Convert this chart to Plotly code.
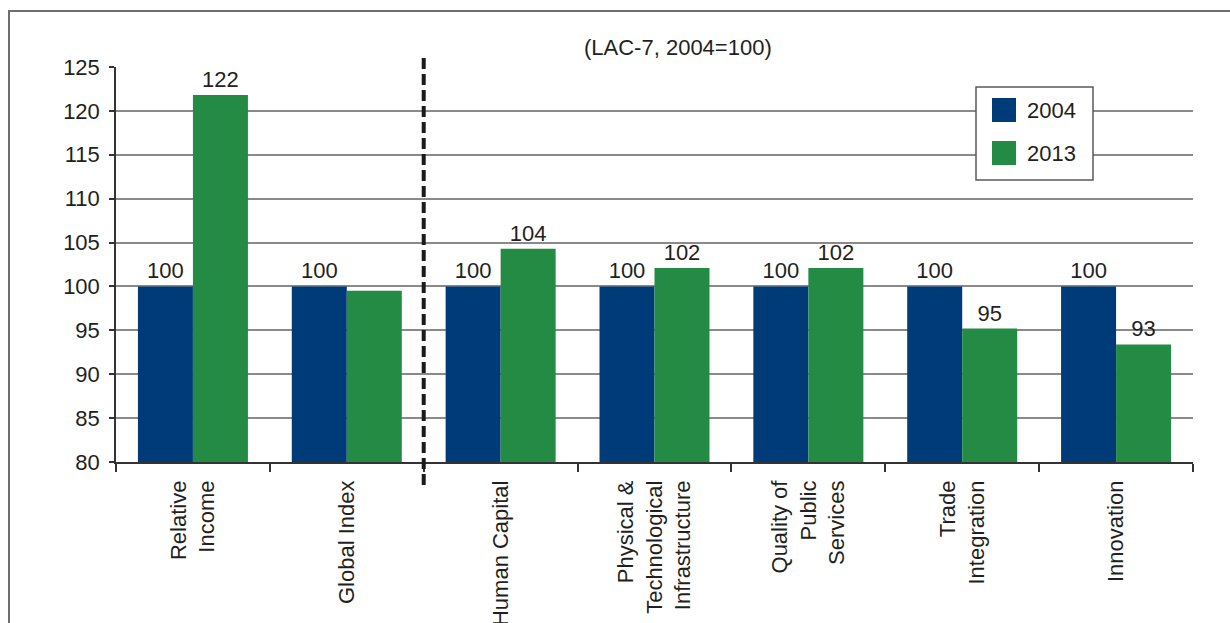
import plotly.graph_objects as go

categories = ["Relative<br>Income", "Global Index", "Human Capital",
              "Physical &<br>Technological<br>Infrastructure",
              "Quality of<br>Public<br>Services", "Trade<br>Integration", "Innovation"]
values_2004 = [100, 100, 100, 100, 100, 100, 100]
values_2013 = [121.8, 99.5, 104.3, 102.1, 102.1, 95.2, 93.4]
labels_2004 = ["100", "100", "100", "100", "100", "100", "100"]
labels_2013 = ["122", "", "104", "102", "102", "95", "93"]
series_names = ["2004", "2013"]
colors = ["#003B79", "#248B45"]
y_ticks = [80, 85, 90, 95, 100, 105, 110, 115, 120, 125]

FONT = "Liberation Sans, Arial, sans-serif"
FS = 22
W, H = 1230, 623
L, R, T, B = 116, 37, 67, 161
PW, PH = W - L - R, H - T - B


def px(x):
    return (x - L) / PW


def py(y):
    return (H - B - y) / PH


fig = go.Figure()
for vals, labs, name, col in zip([values_2004, values_2013], [labels_2004, labels_2013], series_names, colors):
    fig.add_trace(go.Bar(
        x=categories, y=vals, name=name, marker=dict(color=col, line=dict(width=0)),
        text=labs, textposition="outside", cliponaxis=False,
        textfont=dict(family=FONT, size=FS, color="#231f20"),
        showlegend=False,
    ))

shapes = []
# outer frame
shapes.append(dict(type="rect", xref="paper", yref="paper", x0=px(9), x1=px(1240), y0=py(700), y1=py(11),
                   line=dict(color="#6d6e70", width=2), fillcolor="rgba(0,0,0,0)", layer="below"))
# dashed separator
shapes.append(dict(type="line", xref="x", yref="paper", x0=1.5, x1=1.5, y0=py(485), y1=py(58),
                   line=dict(color="#1a1a1a", width=4, dash="11px,5px")))
# legend box
shapes.append(dict(type="rect", xref="paper", yref="paper", x0=px(976), x1=px(1093), y0=py(180), y1=py(87),
                   line=dict(color="#58595b", width=1.5), fillcolor="white"))
annotations = []
for i, (name, col) in enumerate(zip(series_names, colors)):
    top = 98 + i * 43
    shapes.append(dict(type="rect", xref="paper", yref="paper", x0=px(992), x1=px(1016),
                       y0=py(top + 24), y1=py(top), line=dict(width=0), fillcolor=col))
    annotations.append(dict(xref="paper", yref="paper", x=px(1025), y=py(top + 12), text=name,
                            xanchor="left", yanchor="middle", showarrow=False,
                            font=dict(family=FONT, size=FS, color="#231f20")))
annotations.append(dict(xref="paper", yref="paper", x=px(678), y=py(48), text="(LAC-7, 2004=100)",
                        xanchor="center", yanchor="middle", showarrow=False,
                        font=dict(family=FONT, size=FS, color="#231f20")))

fig.update_layout(
    width=W, height=H, margin=dict(l=L, r=R, t=T, b=B, autoexpand=False),
    paper_bgcolor="white", plot_bgcolor="white",
    barmode="group", bargap=0.285, bargroupgap=0,
    font=dict(family=FONT, size=FS, color="#231f20"),
    shapes=shapes, annotations=annotations, showlegend=False,
    xaxis=dict(type="category", tickangle=-90, ticks="outside", tickson="boundaries", ticklen=8,
               tickcolor="#333333", tickwidth=1.5, showline=True, linecolor="#333333", linewidth=1.5,
               showgrid=False, automargin=False, ticklabelstandoff=8,
               tickfont=dict(family=FONT, size=FS, color="#231f20")),
    yaxis=dict(range=[80, 125], tickvals=y_ticks, ticks="outside", ticklen=5, tickcolor="#333333",
               tickwidth=1.5, showline=True, linecolor="#333333", linewidth=1.5,
               showgrid=True, gridcolor="#8a8a8a", gridwidth=1.5, zeroline=False, automargin=False,
               ticklabelstandoff=5,
               tickfont=dict(family=FONT, size=FS, color="#231f20")),
)

fig.write_html("out.html")
